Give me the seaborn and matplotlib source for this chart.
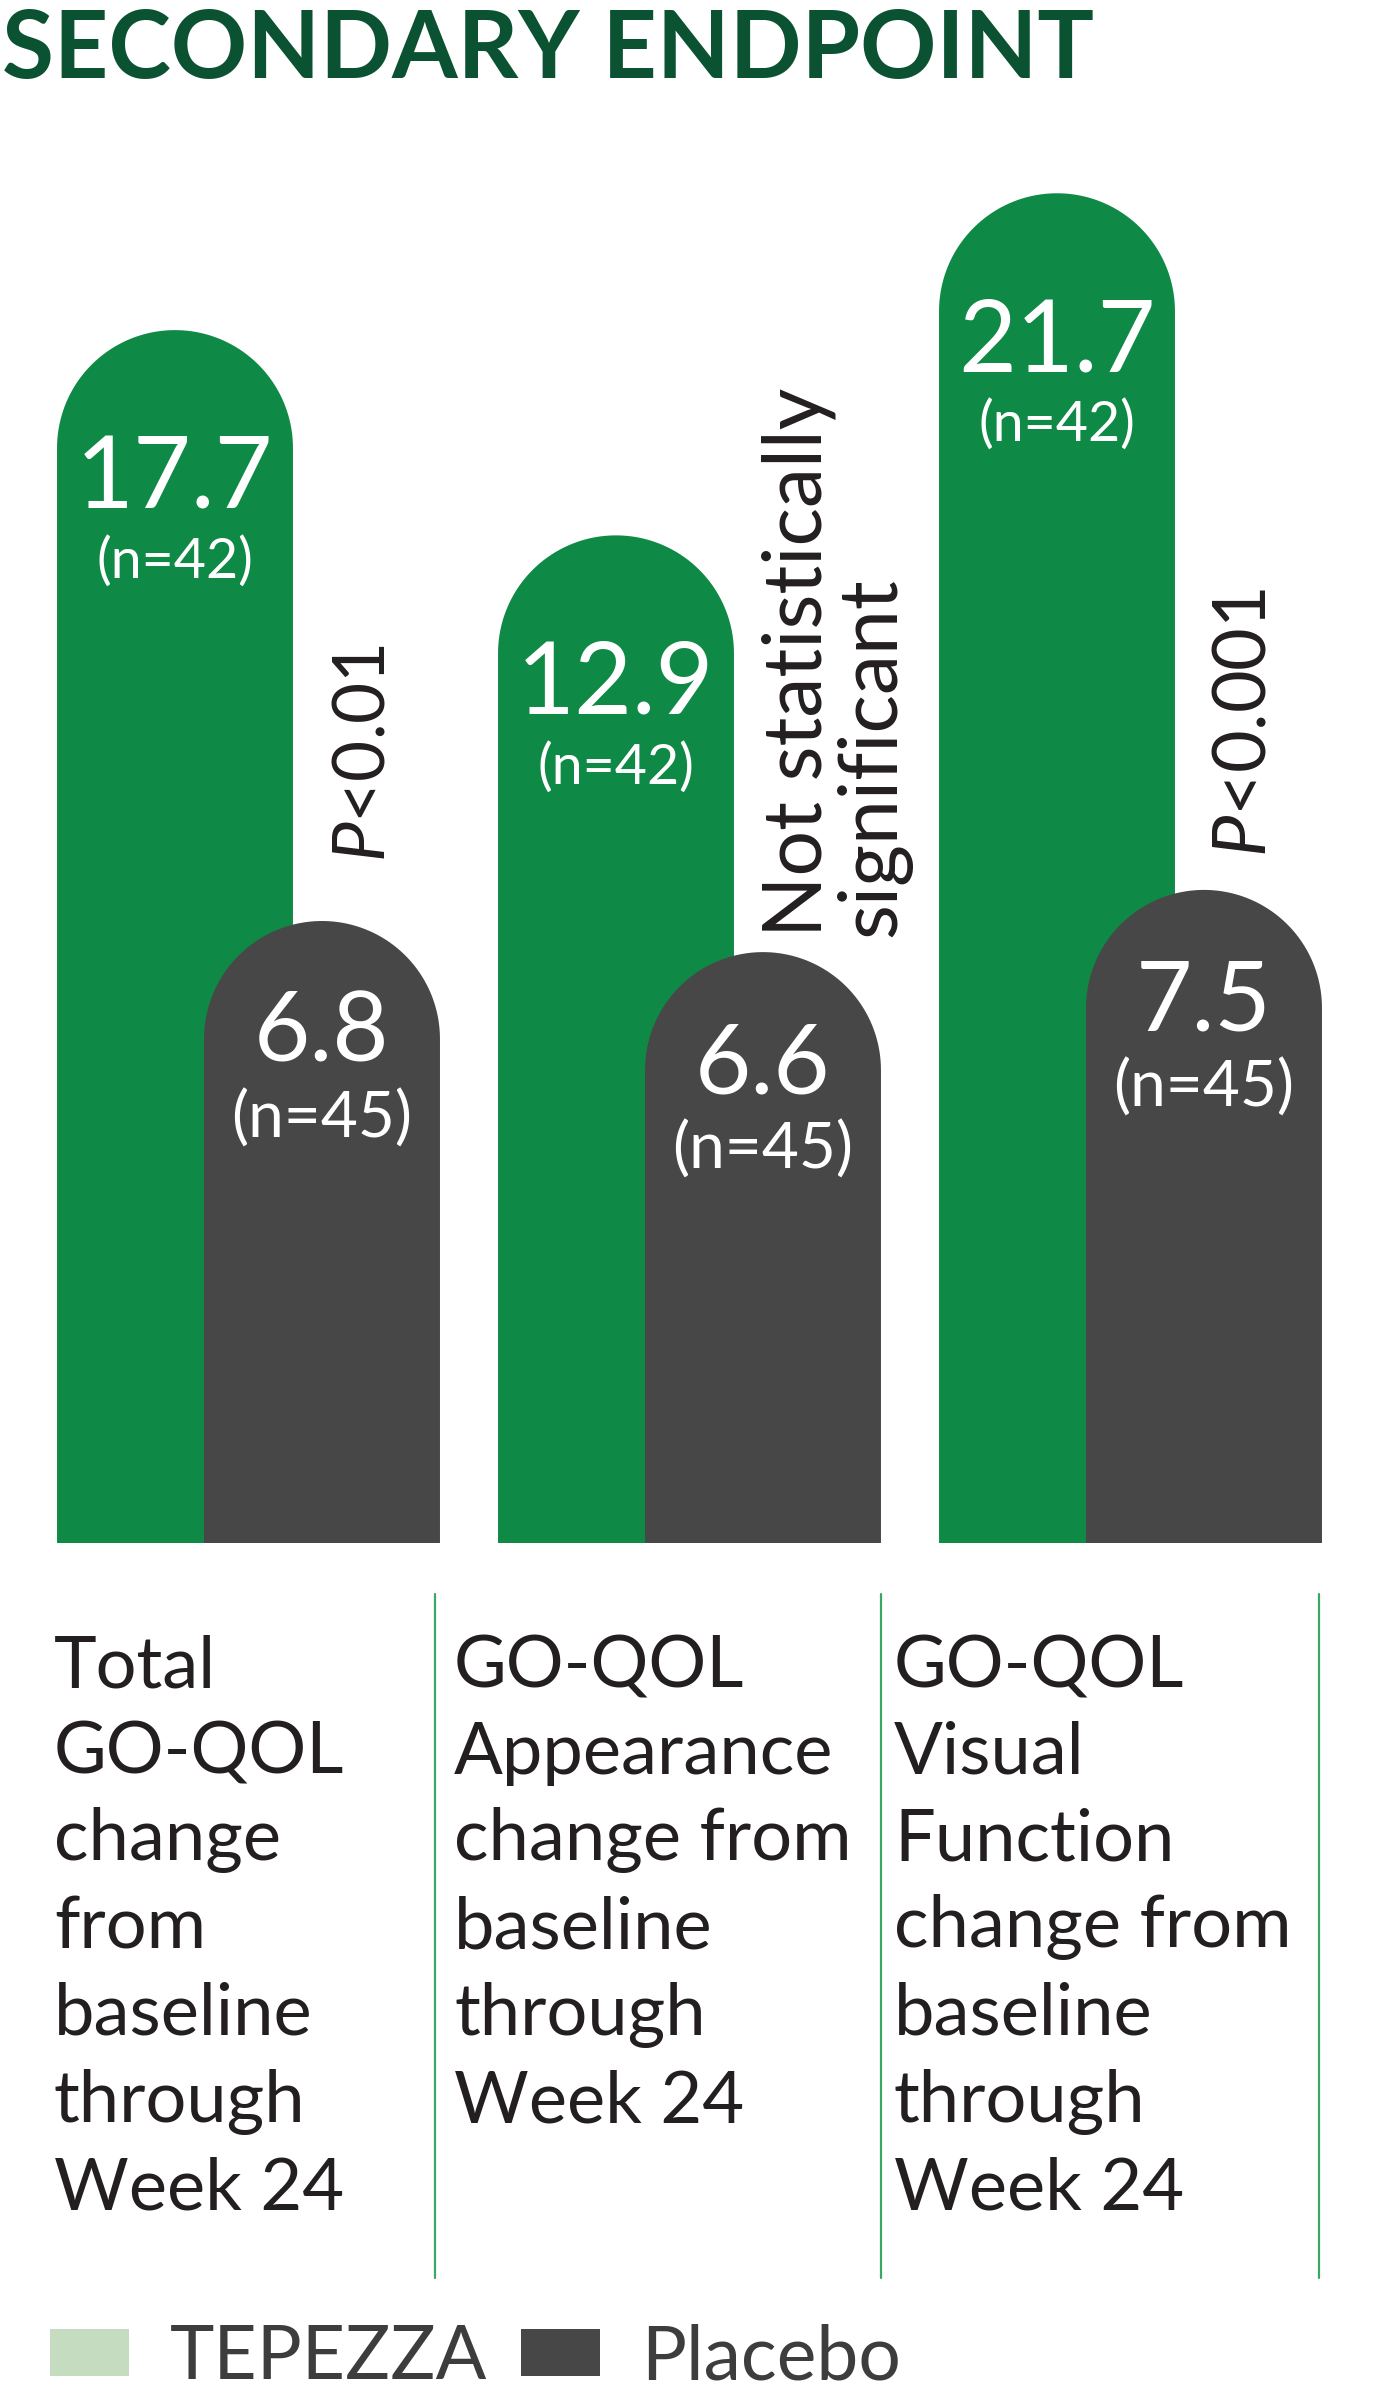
import numpy as np
import pandas as pd
import matplotlib
matplotlib.use("Agg")
import matplotlib.pyplot as plt
from matplotlib.path import Path
from matplotlib.patches import PathPatch, Patch
from matplotlib.lines import Line2D
import seaborn as sns

# --- data
categories = ["Total GO-QOL", "GO-QOL Appearance", "GO-QOL Visual Function"]
category_text = [
    "Total\nGO-QOL\nchange\nfrom\nbaseline\nthrough\nWeek 24",
    "GO-QOL\nAppearance\nchange from\nbaseline\nthrough\nWeek 24",
    "GO-QOL\nVisual\nFunction\nchange from\nbaseline\nthrough\nWeek 24",
]
arms = ["TEPEZZA", "Placebo"]
tepezza_change = [17.7, 12.9, 21.7]
placebo_change = [6.8, 6.6, 7.5]
tepezza_n = [42, 42, 42]
placebo_n = [45, 45, 45]
# the source bars are not to scale; these are their drawn lengths
tepezza_drawn = [19.5, 16.2, 21.7]
placebo_drawn = [10.0, 9.5, 10.5]
significance = ["$\\it{P}$<0.01", "Not statistically\nsignificant", "$\\it{P}$<0.001"]

# colours
GREEN = "#0e8a46"
DARK = "#474747"
TITLE_GREEN = "#0b5232"
LEGEND_GREEN = "#c5dcc0"
LINE_GREEN = "#3aa865"
TEXT = "#231f20"

sns.set_style("white")
plt.rcParams["font.family"] = ["Lato", "DejaVu Sans"]
plt.rcParams["mathtext.fontset"] = "custom"
plt.rcParams["mathtext.rm"] = "Lato"
plt.rcParams["mathtext.it"] = "Lato:italic"

W, H = 1382, 2401
fig = plt.figure(figsize=(W / 100, H / 100), dpi=100)
fig.patch.set_facecolor("white")

# axes: baseline at y=1543 px, groups 441 px apart, first group at 248.5 px
base_px, top_px = 1543, 120
ax = fig.add_axes([0, (H - base_px) / H, 1, (base_px - top_px) / H])
x_step, y_step = 441, 62.2
x_left = -248.5 / x_step

df = pd.DataFrame({
    "category": categories * 2,
    "arm": [arms[0]] * 3 + [arms[1]] * 3,
    "drawn": tepezza_drawn + placebo_drawn,
})
sns.barplot(data=df, x="category", y="drawn", hue="arm", hue_order=arms,
            palette=[GREEN, DARK], width=1.07, dodge=True, saturation=1,
            legend=False, ax=ax)
ax.set_xlim(x_left, x_left + W / x_step)
ax.set_ylim(0, (base_px - top_px) / y_step)
ax.axis("off")

# rebuild bars with a rounded top and the overlap of the original
half_off = 73.5 / x_step
sx = ax.transData.transform((1, 0))[0] - ax.transData.transform((0, 0))[0]
sy = ax.transData.transform((0, 1))[1] - ax.transData.transform((0, 0))[1]
for bar in list(ax.patches):
    x0, w, h = bar.get_x(), bar.get_width(), bar.get_height()
    c = x0 + w / 2
    i = round(c)
    side = -1 if c < i else 1
    c = i + side * half_off
    rx = w / 2
    ry = rx * sx / sy
    t = np.linspace(0, np.pi, 80)
    arc = np.column_stack([c + rx * np.cos(t), h - ry + ry * np.sin(t)])
    verts = np.vstack([[c - rx, 0], [c + rx, 0], arc, [c - rx, 0]])
    ax.add_patch(PathPatch(Path(verts), facecolor=bar.get_facecolor(),
                           edgecolor="none", zorder=2 if side < 0 else 3))
    bar.remove()

# value labels inside the bars
for i in range(3):
    xt, xp = i - half_off, i + half_off
    ax.text(xt, tepezza_drawn[i] - 150 / y_step, f"{tepezza_change[i]}",
            ha="center", va="center", color="white", fontsize=72, zorder=5)
    ax.text(xt, tepezza_drawn[i] - 232 / y_step, f"(n={tepezza_n[i]})",
            ha="center", va="center", color="white", fontsize=40, zorder=5)
    ax.text(xp, placebo_drawn[i] - 114 / y_step, f"{placebo_change[i]}",
            ha="center", va="center", color="white", fontsize=70, zorder=5)
    ax.text(xp, placebo_drawn[i] - 198 / y_step, f"(n={placebo_n[i]})",
            ha="center", va="center", color="white", fontsize=46, zorder=5)

# rotated significance notes
sig_x = [0.262, 1.333, 2.259]
sig_bottom = [(base_px - 862) / y_step, (base_px - 937) / y_step, (base_px - 857) / y_step]
sig_size = [51, 58, 53]
for i in range(3):
    ax.text(sig_x[i], sig_bottom[i], significance[i], rotation=90,
            ha="center", va="bottom", multialignment="left", linespacing=1.0,
            color=TEXT, fontsize=sig_size[i], zorder=5)

# title
fig.text(2 / W, 1 - 8 / H, "SECONDARY ENDPOINT", ha="left", va="top",
         color=TITLE_GREEN, fontsize=68, fontweight="bold")

# category labels and separators
label_x = [54, 454, 894]
for i in range(3):
    fig.text(label_x[i] / W, 1 - 1634 / H, category_text[i], ha="left", va="top",
             color=TEXT, fontsize=52, linespacing=1.41)
for lx in [435, 881, 1319]:
    fig.add_artist(Line2D([lx / W, lx / W], [1 - 1594 / H, 1 - 2278 / H],
                          transform=fig.transFigure, color=LINE_GREEN, lw=1.6))

# legend
handles = [Patch(facecolor=LEGEND_GREEN, edgecolor="none"),
           Patch(facecolor=DARK, edgecolor="none")]
fig.legend(handles, arms, loc="lower left", bbox_to_anchor=(50 / W, 1 - 2392 / H),
           ncol=2, frameon=False, labelcolor="#3d3d3d",
           handlelength=1.05, handleheight=0.58, handletextpad=0.55,
           columnspacing=0.45, borderpad=0, borderaxespad=0,
           prop={"size": 54})

fig.savefig("out.png", dpi=100, facecolor="white")
